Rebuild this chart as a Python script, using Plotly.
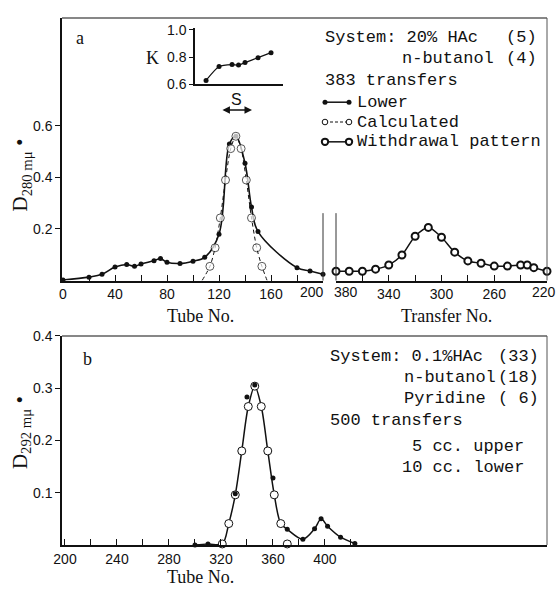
import plotly.graph_objects as go

# ---------------- data ----------------
# Panel a, left: tube number vs optical density (lower phase)
a_lower_tube = [0, 20, 30, 40, 49, 55, 60, 70, 75, 80, 90, 100, 109, 120, 128, 133, 140, 145, 150, 180, 190, 200]
a_lower_D = [0.002, 0.013, 0.024, 0.052, 0.062, 0.055, 0.064, 0.077, 0.085, 0.071, 0.066, 0.075, 0.090,
             0.180, 0.530, 0.560, 0.455, 0.285, 0.190, 0.050, 0.037, 0.024]
# Panel a, calculated curve (end points sit on the baseline, no marker there)
a_calc_tube = [107, 113, 117, 121, 125, 129, 133, 137, 141, 145, 149, 153, 157]
a_calc_D = [0.0, 0.055, 0.127, 0.243, 0.390, 0.512, 0.560, 0.512, 0.390, 0.243, 0.127, 0.055, 0.0]
# Panel a, right: withdrawal pattern
a_wd_transfer = [380, 370, 360, 350, 340, 330, 320, 310, 300, 290, 280, 270, 260, 250, 240, 235, 230, 220]
a_wd_D = [0.036, 0.036, 0.036, 0.044, 0.060, 0.099, 0.172, 0.206, 0.168, 0.110, 0.076, 0.067,
          0.056, 0.056, 0.060, 0.060, 0.050, 0.036]
# Panel a inset: partition coefficient K across the peak
inset_tube = [110, 120, 130, 135, 140, 150, 160]
inset_K = [0.629, 0.731, 0.745, 0.742, 0.760, 0.796, 0.833]
# Panel b
b_lower_tube = [300, 310, 331, 340, 346, 360, 371, 383, 392, 397, 402, 412, 423]
b_lower_D = [0.0, 0.002, 0.098, 0.283, 0.306, 0.128, 0.030, 0.011, 0.031, 0.050, 0.036, 0.015, 0.003]
b_calc_tube = [321, 326, 331, 336, 341, 346, 351, 356, 361, 366, 371]
b_calc_D = [0.002, 0.041, 0.096, 0.180, 0.265, 0.304, 0.265, 0.180, 0.096, 0.041, 0.002]

a_xticks = [0, 40, 80, 120, 160, 200]
a2_xticks = [380, 340, 300, 260, 220]
b_xticks = [200, 240, 280, 320, 360, 400]

# ---------------- layout geometry ----------------
W, H = 558, 589
ML, MR, MT, MB = 62, 10, 13, 44
PW, PH = W - ML - MR, H - MT - MB


def px(x):
    return (x - ML) / PW


def py(y):
    return (H - MB - y) / PH


BLACK = "#111"
TICKFONT = dict(family="Liberation Sans", size=14, color=BLACK)
MONO = dict(family="Liberation Mono", size=17, color=BLACK)
SERIF = dict(family="Liberation Serif", size=18, color=BLACK)

fig = go.Figure()

# panel a, left
fig.add_trace(go.Scatter(x=a_lower_tube, y=a_lower_D, mode="lines+markers", name="Lower",
                         line=dict(color=BLACK, width=1.6, shape="spline", smoothing=1.0),
                         marker=dict(symbol="circle", size=5, color=BLACK),
                         xaxis="x", yaxis="y", cliponaxis=False))
calc_sizes = [0] + [8] * (len(a_calc_tube) - 2) + [0]
fig.add_trace(go.Scatter(x=a_calc_tube, y=a_calc_D, mode="lines+markers", name="Calculated",
                         line=dict(color=BLACK, width=1, dash="4px,3px", shape="spline", smoothing=0.8),
                         marker=dict(symbol="circle", size=calc_sizes, color="white",
                                     line=dict(color=BLACK, width=1)),
                         xaxis="x", yaxis="y", cliponaxis=False))
# panel a, right
fig.add_trace(go.Scatter(x=a_wd_transfer, y=a_wd_D, mode="lines+markers", name="Withdrawal pattern",
                         line=dict(color=BLACK, width=1.5, shape="spline", smoothing=0.8),
                         marker=dict(symbol="circle", size=7, color="white",
                                     line=dict(color=BLACK, width=2)),
                         xaxis="x2", yaxis="y2", cliponaxis=False))
# inset
fig.add_trace(go.Scatter(x=inset_tube, y=inset_K, mode="lines+markers",
                         line=dict(color=BLACK, width=1.2, shape="spline", smoothing=0.6),
                         marker=dict(size=5, color=BLACK),
                         xaxis="x4", yaxis="y4", cliponaxis=False))

# panel b: smooth curve through the calculated peak and the lower-phase points outside it
curve = sorted([(t, d) for t, d in zip(b_lower_tube, b_lower_D) if t < b_calc_tube[0]] +
               [(t, d) for t, d in zip(b_calc_tube, b_calc_D) if t < b_calc_tube[-1]] +
               [(t, d) for t, d in zip(b_lower_tube, b_lower_D) if t >= b_calc_tube[-1]])
fig.add_trace(go.Scatter(x=[c[0] for c in curve], y=[c[1] for c in curve], mode="lines",
                         line=dict(color=BLACK, width=1.5, shape="spline", smoothing=0.9),
                         xaxis="x3", yaxis="y3", hoverinfo="skip"))
fig.add_trace(go.Scatter(x=b_calc_tube, y=b_calc_D, mode="markers",
                         marker=dict(symbol="circle", size=8, color="white", line=dict(color=BLACK, width=1)),
                         xaxis="x3", yaxis="y3", cliponaxis=False))
fig.add_trace(go.Scatter(x=b_lower_tube, y=b_lower_D, mode="markers",
                         marker=dict(symbol="circle", size=5, color=BLACK),
                         xaxis="x3", yaxis="y3", cliponaxis=False))

axis_common = dict(showgrid=False, zeroline=False, showline=True, linecolor=BLACK, linewidth=1.5,
                   tickfont=TICKFONT, tickcolor=BLACK)

fig.update_layout(
    width=W, height=H, margin=dict(l=ML, r=MR, t=MT, b=MB),
    paper_bgcolor="white", plot_bgcolor="white",
    showlegend=False,
    xaxis=dict(axis_common, domain=[0, px(323)], range=[-0.77, 200], anchor="y",
               tickvals=a_xticks[:-1], ticks="inside", ticklen=6,
               minor=dict(dtick=20, tick0=0, ticks="inside", ticklen=6, tickcolor=BLACK)),
    yaxis=dict(axis_common, domain=[py(278), 1], range=[0, 1.019], anchor="x",
               tickvals=[0.2, 0.4, 0.6], tickformat=".1f", ticks="outside", ticklen=5),
    xaxis2=dict(axis_common, domain=[px(336), px(547)], range=[380, 220], anchor="y2",
                tickvals=a2_xticks[1:-1], ticks="inside", ticklen=6,
                minor=dict(dtick=20, tick0=220, ticks="inside", ticklen=6, tickcolor=BLACK)),
    yaxis2=dict(domain=[py(278), 1], range=[0, 1.019], anchor="x2", visible=False),
    xaxis3=dict(axis_common, domain=[0, px(547)], range=[197.7, 570.8], anchor="y3",
                tickvals=b_xticks, ticks="inside", ticklen=6,
                minor=dict(tickvals=[220, 260, 300, 340, 380, 420], ticks="inside", ticklen=6,
                           tickcolor=BLACK)),
    yaxis3=dict(axis_common, domain=[0, py(334)], range=[0, 0.4], anchor="x3",
                tickvals=[0.1, 0.2, 0.3, 0.4], tickformat=".1f", ticks="outside", ticklen=5),
    xaxis4=dict(axis_common, domain=[px(195), px(283)], range=[101.5, 169.2], anchor="y4",
                showticklabels=False, ticks=""),
    yaxis4=dict(axis_common, domain=[py(80), py(23)], range=[0.6, 1.0145], anchor="x4",
                tickvals=[0.6, 0.8, 1.0], tickformat=".1f", ticks="outside", ticklen=4),
)

# frame lines
frame = dict(type="line", xref="paper", yref="paper", line=dict(color=BLACK, width=1.2))
fig.add_shape(frame, x0=px(62), x1=px(547), y0=py(13), y1=py(13))
fig.add_shape(frame, x0=px(547), x1=px(547), y0=py(13), y1=py(278), line=dict(color="#555", width=1))
fig.add_shape(frame, x0=px(323), x1=px(323), y0=py(210), y1=py(278), line=dict(color="#333", width=1))
fig.add_shape(frame, x0=px(336), x1=px(336), y0=py(210), y1=py(278), line=dict(color="#333", width=1))
fig.add_shape(frame, x0=px(62), x1=px(547), y0=py(334), y1=py(334))
fig.add_shape(frame, x0=px(547), x1=px(547), y0=py(334), y1=py(545), line=dict(color="#555", width=1))


def note(text, x, y, font, xanchor="left", angle=0):
    fig.add_annotation(text=text, x=px(x), y=py(y), xref="paper", yref="paper", showarrow=False,
                       xanchor=xanchor, yanchor="middle", font=font, textangle=angle)


# end tick labels of the broken axis, nudged as in the original
note(str(a_xticks[-1]), 312, 290, TICKFONT, "center")
note(str(a2_xticks[0]), 346, 290, TICKFONT, "center")
note(str(a2_xticks[-1]), 544, 290, TICKFONT, "center")

# legend drawn by hand (glyph with a symbol at each end, as in the original)
def glyph(y, dash, marker):
    fig.add_shape(type="line", xref="paper", yref="paper", x0=px(325), x1=px(349), y0=py(y), y1=py(y),
                  line=dict(color=BLACK, width=1.5 if dash == "solid" else 1, dash=dash))
    for xx in (325, 349):
        if marker == "dot":
            r, fill, lw = 2.5, BLACK, 0
        elif marker == "open":
            r, fill, lw = 2.8, "white", 1
        else:
            r, fill, lw = 3.2, "white", 2
        fig.add_shape(type="circle", xref="paper", yref="paper", xsizemode="pixel", ysizemode="pixel",
                      xanchor=px(xx), yanchor=py(y), x0=-r, x1=r, y0=-r, y1=r,
                      fillcolor=fill, line=dict(color=BLACK, width=lw))


glyph(98, "solid", "dot")
glyph(118, "3px,2px", "open")
glyph(138, "solid", "bold")
note("Lower", 355, 98, MONO)
note("Calculated", 355, 118, MONO)
note("Withdrawal pattern", 355, 138, MONO)

# panel a texts
note("a", 80, 33, SERIF, "center")
note("K", 152, 53, SERIF, "center")
note("S", 236, 95, dict(family="Liberation Sans", size=16, color=BLACK), "center")
fig.add_annotation(x=145.4, y=0.662, ax=121.5, ay=0.662, xref="x", yref="y", axref="x", ayref="y",
                   text="", showarrow=True, arrowhead=2, startarrowhead=2, arrowside="end+start",
                   arrowsize=1, arrowwidth=1.5, arrowcolor=BLACK)
note("System: 20% HAc", 323, 33, MONO)
note("(5)", 539, 33, MONO, "right")
note("n-butanol", 400, 54, MONO)
note("(4)", 539, 54, MONO, "right")
note("383 transfers", 323, 76, MONO)
note("D<sub>280 mμ</sub> •", 21, 172, dict(family="Liberation Serif", size=21, color=BLACK), "center", -90)
note("Tube No.", 200, 314, SERIF, "center")
note("Transfer No.", 446, 314, SERIF, "center")

# panel b texts
note("b", 87, 357, SERIF, "center")
note("System: 0.1%HAc", 328, 355, MONO)
note("(33)", 541, 355, MONO, "right")
note("n-butanol", 402, 376, MONO)
note("(18)", 541, 376, MONO, "right")
note("Pyridine", 402, 397, MONO)
note("( 6)", 541, 397, MONO, "right")
note("500 transfers", 328, 419, MONO)
note("5 cc. upper", 410, 446, MONO)
note("10 cc. lower", 400, 467, MONO)
note("D<sub>292 mμ</sub> •", 21, 432, dict(family="Liberation Serif", size=21, color=BLACK), "center", -90)
note("Tube No.", 200, 577, SERIF, "center")

fig.write_html("out.html",
               post_script="document.body.style.margin='0';document.body.style.overflow='hidden';"
                           "document.documentElement.style.overflow='hidden';",
               config={"displayModeBar": False})
